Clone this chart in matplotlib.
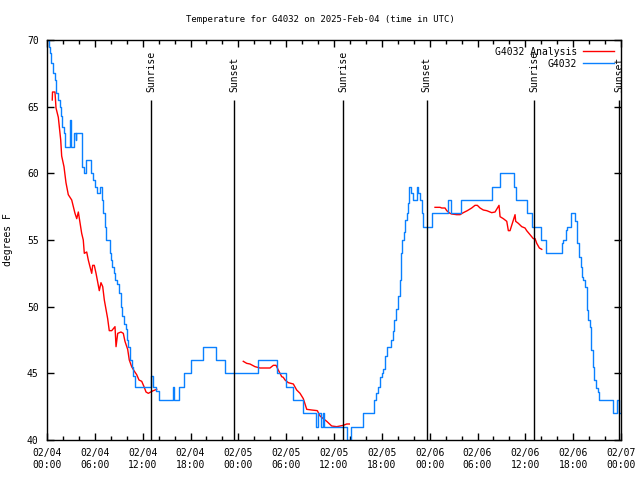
import numpy as np
import pandas as pd
import matplotlib
matplotlib.use("Agg")
import matplotlib.pyplot as plt
import matplotlib.dates as mdates
from matplotlib.lines import Line2D

START = pd.Timestamp("2025-02-04 00:00")

# observed station temps (hours since start, deg F) - drawn as steps
obs_hours = [0.00, 0.19, 0.38, 0.56, 0.75, 1.00, 1.19, 1.38, 1.57, 1.76, 1.94, 2.13,
             2.26, 2.51, 2.89, 3.01, 3.20, 3.39, 3.58, 3.70, 4.14, 4.33, 4.45, 4.70,
             4.95, 5.33, 5.46, 5.71, 6.02, 6.21, 6.46, 6.65, 6.84, 7.02, 7.27, 7.34,
             7.65, 7.84, 7.97, 8.15, 8.40, 8.59, 8.78, 9.09, 9.28, 9.47, 9.66, 9.85,
             10.04, 10.22, 10.41, 10.60, 10.79, 11.04, 12.83, 13.05, 13.30, 13.67,
             14.05, 15.37, 15.75, 15.87, 16.37, 16.56, 17.19, 18.06, 19.57, 21.26,
             22.33, 26.43, 28.79, 29.92, 30.80, 32.05, 33.74, 33.99, 34.31, 34.56,
             34.75, 37.69, 38.07, 39.58, 41.02, 41.33, 41.58, 41.77, 41.99, 42.19,
             42.40, 42.61, 43.15, 43.34, 43.53, 43.78, 43.99, 44.22, 44.37, 44.47,
             44.78, 44.91, 45.10, 45.23, 45.42, 45.72, 45.91, 46.35, 46.54, 46.79,
             46.98, 47.17, 48.30, 50.30, 50.62, 51.93, 55.88, 56.76, 58.58, 58.77,
             60.21, 60.84, 61.97, 62.60, 64.54, 64.73, 65.04, 65.23, 65.67, 65.79,
             66.17, 66.42, 66.54, 66.73, 66.99, 67.11, 67.24, 67.49, 67.68, 67.86,
             68.05, 68.24, 68.43, 68.62, 68.87, 69.06, 69.24, 71.00, 71.50, 71.75,
             72.00]
obs_temp = [70, 69.5, 69, 68.3, 67.5, 67, 66, 65.5, 65, 64.3, 63.5, 63,
            62, 62, 64, 62, 62, 63, 62.5, 63, 63, 62, 60.5, 60,
            61, 61, 60, 59.5, 59, 58.5, 58.5, 59, 58, 57, 56, 55,
            55, 54, 53.5, 53, 52.5, 52, 51.7, 51, 50, 49.3, 48.7, 48.3,
            47.5, 47, 46, 45.5, 44.8, 44, 44, 44.8, 44, 43.7,
            43, 43, 44, 43, 43, 44, 45, 46, 47, 46,
            45, 46, 45, 44, 43, 42, 41, 42, 41, 42,
            41, 40, 41, 42, 43, 43.5, 44, 44.75, 45, 45.3,
            46.3, 47, 47.5, 48.2, 49, 49.8, 50.8, 52, 54, 55,
            55.6, 56.5, 57, 57.8, 59, 58.5, 58, 59, 58.5, 58,
            57, 56, 57, 58, 57, 58, 59, 60, 59, 58,
            57, 56, 55, 54, 54.75, 55, 55.75, 56, 56.8, 57,
            56.4, 55.75, 54.75, 53.75, 53, 52.25, 52, 51.5, 49.75, 49,
            48.5, 46.75, 45.5, 44.5, 43.9, 43.6, 43, 42, 43, 42,
            42]

# analysis temps (NaN = gap between runs)
ana_hours = [0.66, 0.69, 1.00, 1.13, 1.42, 1.72, 1.84, 2.13, 2.38, 2.67, 3.10, 3.51,
             3.73, 3.93, 4.14, 4.35, 4.55, 4.68, 4.98, 5.18, 5.39, 5.61, 5.73, 5.93,
             6.15, 6.31, 6.56, 6.77, 6.99, 7.19, 7.40, 7.61, 7.81, 8.12, 8.53, 8.66,
             8.87, 9.28, 9.57, 9.78, 10.12, 10.32, 10.62, 10.91, 11.25, 11.54, 11.88,
             12.17, 12.42, 12.71, 13.01, 13.33, 13.76, np.nan,
             24.62, 25.05, 25.46, 26.09, 26.72, 27.97, 28.39, 28.73, 29.01, 29.23,
             29.44, 29.64, 29.86, 30.27, 30.90, 31.32, 31.74, 32.15, 32.58, 33.20,
             33.91, 34.25, 34.66, 35.09, 35.71, 36.34, 37.17, 37.59, 37.92, np.nan,
             48.67, 49.30, 49.51, 49.93, 50.14, 50.55, 50.77, 51.39, 51.81, 52.22,
             52.72, 53.27, 53.69, 53.98, 54.32, 54.73, 55.16, 55.78, 56.20, 56.70,
             56.83, 57.24, 57.67, 57.87, 58.08, 58.37, 58.71, 58.79, 59.12, 59.55,
             59.96, 60.17, 60.59, 61.00, 61.22, 61.43, 61.76, 62.06]
ana_temp = [65.5, 66.1, 66.1, 64.9, 64.2, 62.5, 61.3, 60.5, 59.3, 58.4, 58, 57,
            56.6, 57.1, 56.3, 55.5, 55, 54, 54.1, 53.5, 53, 52.5, 53.1, 53.1,
            52.5, 52, 51.2, 51.8, 51.5, 50.5, 49.8, 49.1, 48.2, 48.2, 48.5, 47,
            48, 48.1, 48, 47.4, 46.8, 46, 45.5, 45.2, 44.9, 44.5, 44.4,
            44, 43.6, 43.5, 43.6, 43.7, 43.8, np.nan,
            45.9, 45.75, 45.7, 45.5, 45.4, 45.4, 45.6, 45.6, 45.25, 45,
            44.75, 44.7, 44.5, 44.3, 44.2, 43.75, 43.5, 43.1, 42.3, 42.25,
            42.2, 41.8, 41.6, 41.4, 41.05, 41, 41.1, 41.2, 41.2, np.nan,
            57.45, 57.45, 57.4, 57.4, 57.2, 57, 56.95, 56.9, 56.9, 57.05,
            57.2, 57.4, 57.6, 57.6, 57.4, 57.25, 57.2, 57.05, 57.1, 57.6,
            56.75, 56.6, 56.4, 55.7, 55.7, 56.25, 56.9, 56.4, 56.25, 56,
            55.9, 55.7, 55.4, 55.1, 55.1, 54.75, 54.4, 54.3]

sun_hours = [13.05, 23.50, 37.17, 47.63, 61.13, 71.75]
sun_labels = ["Sunrise", "Sunset", "Sunrise", "Sunset", "Sunrise", "Sunset"]

FONT = "DejaVu Sans Mono"
RED = "#ff0000"
BLUE = "#0a80ff"

obs_t = START + pd.to_timedelta(obs_hours, unit="h")
ana_t = START + pd.to_timedelta(ana_hours, unit="h")
sun_t = START + pd.to_timedelta(sun_hours, unit="h")

fig = plt.figure(figsize=(6.4, 4.8), dpi=100)
ax = fig.add_axes([47 / 640, 40 / 480, 574 / 640, 400 / 480])

ax.plot(ana_t, ana_temp, color=RED, lw=1)
ax.plot(obs_t, obs_temp, color=BLUE, lw=1, drawstyle="steps-post")

for t, lab in zip(sun_t, sun_labels):
    ax.vlines(t, 40, 65.5, color="black", lw=1)
    ax.text(t, 66.1, lab, rotation=90, ha="center", va="bottom",
            family=FONT, fontsize=7)

ax.set_xlim(START, START + pd.Timedelta(hours=72))
ax.set_ylim(40, 70)
ax.set_yticks(np.arange(40, 71, 5))

ax.xaxis.set_major_locator(mdates.HourLocator(byhour=[0, 6, 12, 18]))
ax.xaxis.set_minor_locator(mdates.HourLocator(byhour=range(0, 24, 2)))
ax.xaxis.set_major_formatter(mdates.DateFormatter("%m/%d\n%H:%M"))

ax.tick_params(which="both", direction="in", top=True, right=True, labelsize=7, pad=6)
ax.tick_params(which="major", length=5, width=1)
ax.tick_params(which="minor", length=3, width=1)
for lab in ax.get_xticklabels() + ax.get_yticklabels():
    lab.set_family(FONT)
for s in ax.spines.values():
    s.set_linewidth(1)

ax.set_ylabel("degrees F", family=FONT, fontsize=7, labelpad=10)
fig.text(0.5, 1 - 20 / 480, "Temperature for G4032 on 2025-Feb-04 (time in UTC)",
         ha="center", va="center", family=FONT, fontsize=6.5)

handles = [Line2D([], [], color=RED, lw=1), Line2D([], [], color=BLUE, lw=1)]
leg = ax.legend(handles, ["G4032 Analysis", "G4032"], loc="upper right",
                frameon=False, markerfirst=False, handlelength=3.2,
                prop={"family": FONT, "size": 7}, borderaxespad=0.3,
                labelspacing=0.2, handletextpad=0.6)
for txt in leg.get_texts():
    txt.set_ha("right")

fig.savefig("out.png", dpi=100)
